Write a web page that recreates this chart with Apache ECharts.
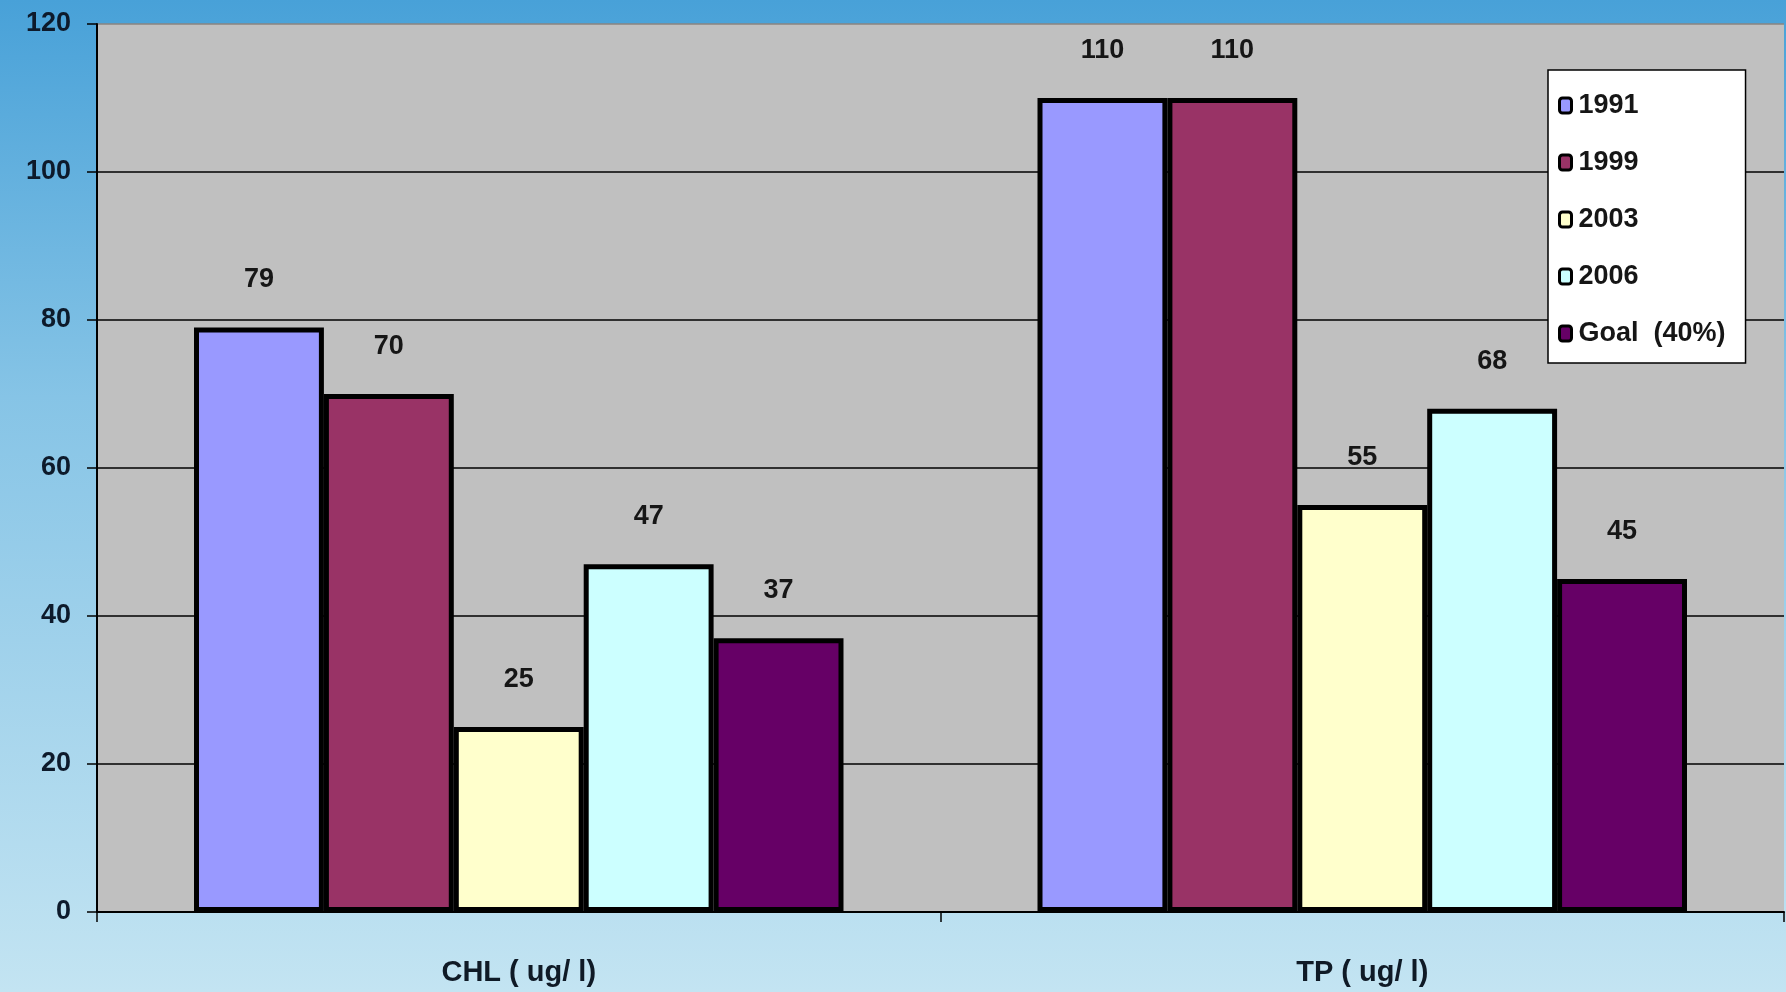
<!DOCTYPE html>
<html>
<head>
<meta charset="utf-8">
<script src="https://cdn.jsdelivr.net/npm/echarts@6/dist/echarts.min.js"></script>
<style>
  html, body { margin: 0; padding: 0; }
  #chart { width: 1786px; height: 992px; }
</style>
</head>
<body>
<div id="chart"></div>
<script>
const categories = ['CHL ( ug/ l)', 'TP ( ug/ l)']
const seriesNames = ['1991', '1999', '2003', '2006', 'Goal  (40%)']
const values1991 = [79, 110]
const values1999 = [70, 110]
const values2003 = [25, 55]
const values2006 = [47, 68]
const valuesGoal = [37, 45]
const yTicks = [0, 20, 40, 60, 80, 100, 120]

const colors = ['#9999ff', '#993366', '#ffffcc', '#ccffff', '#660066']
const seriesValues = [values1991, values1999, values2003, values2006, valuesGoal]
const font = "'Liberation Sans Narrow', 'Liberation Sans', Arial, sans-serif"

const chart = echarts.init(document.getElementById('chart'))

chart.setOption({
  backgroundColor: new echarts.graphic.LinearGradient(0, 0, 0, 1, [
    { offset: 0, color: '#48a1d8' },
    { offset: 0.4, color: '#86c4e6' },
    { offset: 1, color: '#c3e4f2' },
  ]),
  textStyle: { fontFamily: font },
  grid: {
    left: 97,
    right: 2,
    top: 24,
    bottom: 80,
    show: true,
    backgroundColor: '#c0c0c0',
    borderWidth: 0,
  },
  legend: {
    orient: 'vertical',
    left: 1548,
    top: 70,
    data: seriesNames,
    backgroundColor: '#ffffff',
    borderColor: '#000000',
    borderWidth: 1.5,
    borderRadius: 0,
    padding: [22, 20, 16, 10],
    itemGap: 30,
    itemWidth: 12,
    itemHeight: 15,
    icon: 'roundRect',
    itemStyle: { borderColor: '#000000', borderWidth: 3 },
    textStyle: {
      fontFamily: font,
      fontSize: 27,
      fontWeight: 'bold',
      color: '#161616',
      padding: [6, 0, 0, 2],
    },
  },
  xAxis: {
    type: 'category',
    data: categories,
    axisLine: { lineStyle: { color: '#000000', width: 2 } },
    axisTick: { show: true, length: 10, lineStyle: { color: '#000000', width: 1.5 } },
    axisLabel: {
      fontFamily: font,
      fontSize: 29,
      fontWeight: 'bold',
      color: '#0f1a26',
      margin: 46,
    },
  },
  yAxis: {
    type: 'value',
    min: yTicks[0],
    max: yTicks[yTicks.length - 1],
    interval: yTicks[1] - yTicks[0],
    axisLine: { show: true, lineStyle: { color: '#000000', width: 2 } },
    axisTick: { show: true, length: 10, lineStyle: { color: '#000000', width: 1.5 } },
    axisLabel: {
      fontFamily: font,
      fontSize: 27,
      fontWeight: 'bold',
      color: '#0d1a2b',
      margin: 26,
    },
    splitLine: {
      lineStyle: {
        color: ['#000000', '#000000', '#000000', '#000000', '#000000', '#000000', '#8a8480'],
        width: 1.5,
      },
    },
  },
  series: seriesNames.map((name, i) => ({
    name,
    type: 'bar',
    data: seriesValues[i],
    barGap: '0%',
    barCategoryGap: '23%',
    itemStyle: {
      color: colors[i],
      borderColor: '#000000',
      borderWidth: 5,
    },
    label: {
      show: true,
      position: 'top',
      distance: 34,
      fontFamily: font,
      fontSize: 27,
      fontWeight: 'bold',
      color: '#161616',
    },
  })),
})
</script>
</body>
</html>
